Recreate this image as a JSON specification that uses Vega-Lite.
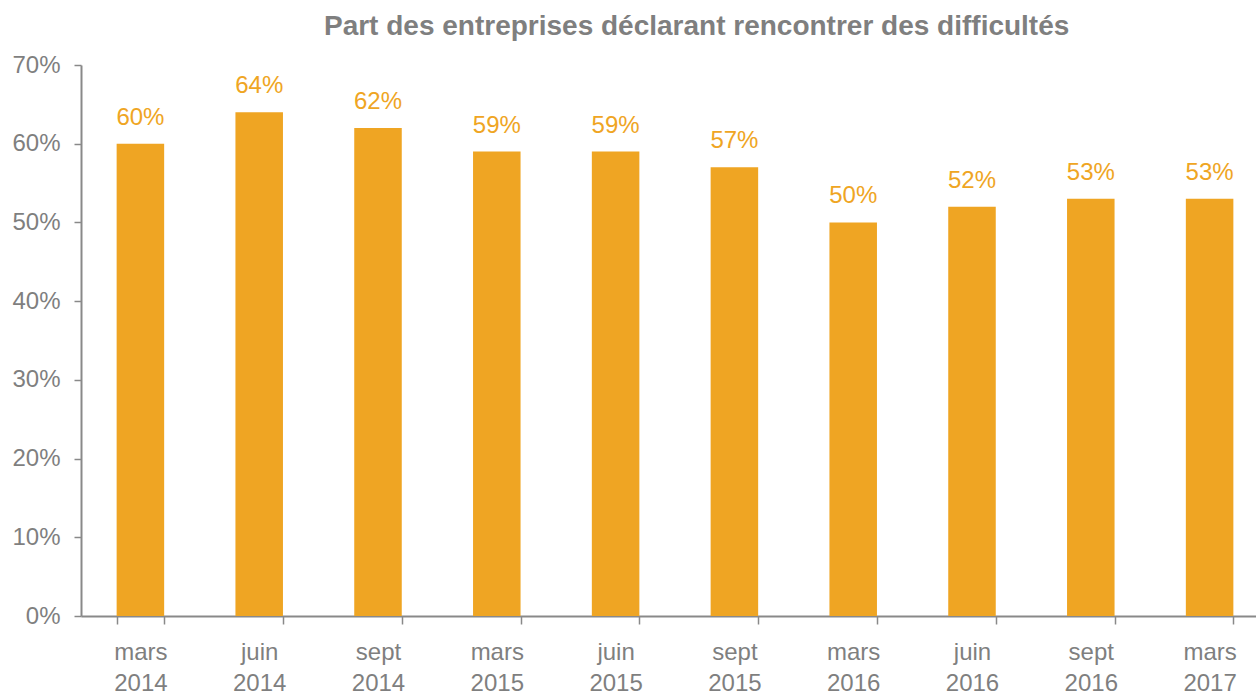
{
  "$schema": "https://vega.github.io/schema/vega-lite/v6.json",
  "autosize": "none",
  "width": 1188,
  "height": 551,
  "padding": {"left": 81, "top": 65, "right": 0, "bottom": 80},
  "background": "white",
  "title": {
    "text": "Part des entreprises déclarant rencontrer des difficultés",
    "font": "Liberation Sans Narrow, Arial Narrow, sans-serif",
    "fontSize": 28,
    "fontWeight": "bold",
    "color": "#7f7f7f",
    "anchor": "start",
    "dx": 312,
    "offset": 12
  },
  "config": {
    "view": {"stroke": null},
    "font": "Liberation Sans Narrow, Arial Narrow, sans-serif"
  },
  "data": {
    "values": [
      {"periode": "mars 2014", "part": 0.60},
      {"periode": "juin 2014", "part": 0.64},
      {"periode": "sept 2014", "part": 0.62},
      {"periode": "mars 2015", "part": 0.59},
      {"periode": "juin 2015", "part": 0.59},
      {"periode": "sept 2015", "part": 0.57},
      {"periode": "mars 2016", "part": 0.50},
      {"periode": "juin 2016", "part": 0.52},
      {"periode": "sept 2016", "part": 0.53},
      {"periode": "mars 2017", "part": 0.53}
    ]
  },
  "encoding": {
    "x": {
      "field": "periode",
      "type": "nominal",
      "sort": null,
      "scale": {"paddingInner": 0.6, "paddingOuter": 0.3},
      "axis": {
        "title": null,
        "labelAngle": 0,
        "labelExpr": "split(datum.label, ' ')",
        "labelLineHeight": 31,
        "labelFontSize": 24,
        "labelColor": "#7f7f7f",
        "labelPadding": 16,
        "domainColor": "#898989",
        "domainWidth": 2,
        "tickColor": "#898989",
        "tickWidth": 1.5,
        "tickSize": 8,
        "tickBand": "extent",
        "grid": false
      }
    },
    "y": {
      "field": "part",
      "type": "quantitative",
      "scale": {"domain": [0, 0.7]},
      "axis": {
        "title": null,
        "values": [0, 0.1, 0.2, 0.3, 0.4, 0.5, 0.6, 0.7],
        "format": ".0%",
        "labelFontSize": 24,
        "labelColor": "#7f7f7f",
        "labelPadding": 14,
        "domainColor": "#898989",
        "domainWidth": 2,
        "tickColor": "#898989",
        "tickWidth": 1.5,
        "tickSize": 7,
        "grid": false
      }
    }
  },
  "layer": [
    {"mark": {"type": "bar", "color": "#EFA523"}},
    {
      "mark": {"type": "text", "color": "#EFA523", "fontSize": 24, "dy": -14, "baseline": "bottom"},
      "encoding": {"text": {"field": "part", "type": "quantitative", "format": ".0%"}}
    }
  ]
}
